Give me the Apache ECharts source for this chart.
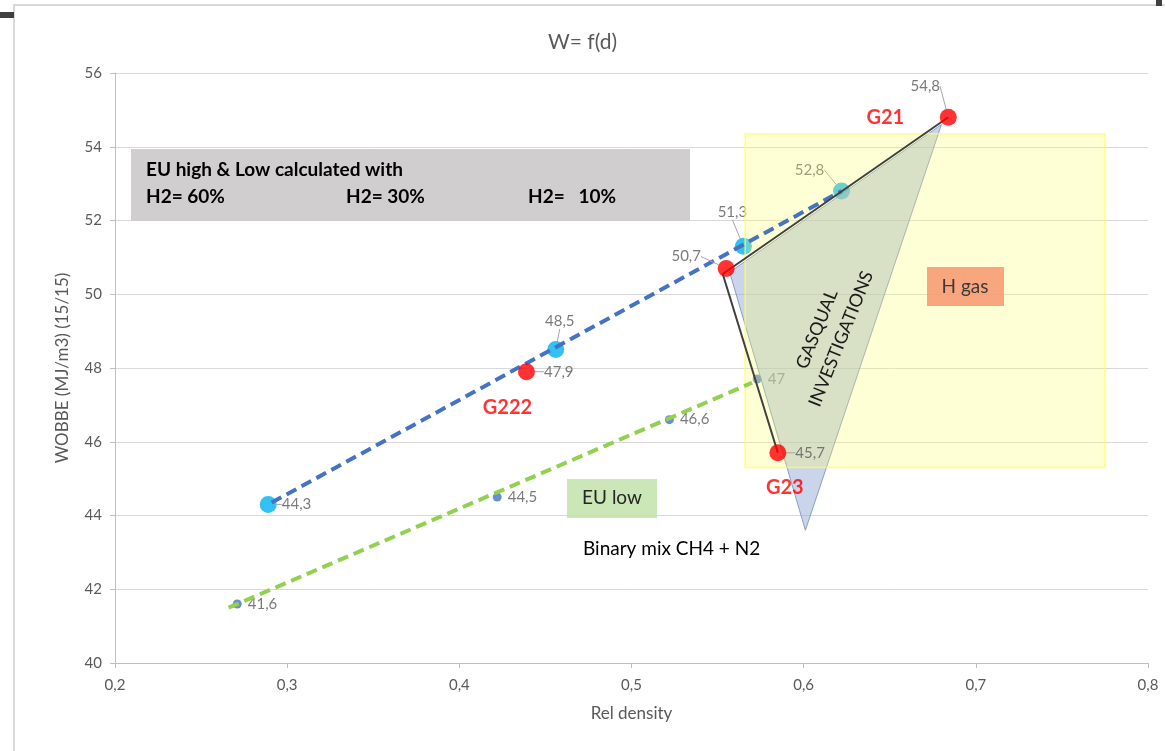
<!DOCTYPE html>
<html><head><meta charset="utf-8">
<script src="https://cdn.jsdelivr.net/npm/echarts@6/dist/echarts.min.js"></script>
<style>html,body{margin:0;padding:0;background:#fff}#c{width:1165px;height:751px}</style>
</head><body><div id="c"></div>
<script>
// ---- data ----
const chartTitle = 'W= f(d)';
const xAxisName = 'Rel density';
const yAxisName = 'WOBBE (MJ/m3) (15/15)';
const euHighX = [0.289, 0.456, 0.565, 0.622];
const euHighY = [44.3, 48.5, 51.3, 52.8];
const gasX = [0.684, 0.439, 0.555, 0.585];
const gasY = [54.8, 47.9, 50.7, 45.7];
const gasNames = ['G21', 'G222', '', 'G23'];
const euLowX = [0.271, 0.422, 0.522, 0.573];
const euLowY = [41.6, 44.5, 46.6, 47.7];
const euLowLabels = ['41,6', '44,5', '46,6', '47'];
const highTrendX = [0.291, 0.622];
const highTrendY = [44.35, 52.8];
const lowTrendX = [0.266, 0.570];
const lowTrendY = [41.5, 47.6];
const gasqualPathX = [0.684, 0.553, 0.585];
const gasqualPathY = [54.8, 50.55, 45.7];
const triangleX = [0.557, 0.680, 0.601];
const triangleY = [50.6, 54.6, 43.6];
const hGasRectX = [0.566, 0.775];
const hGasRectY = [45.3, 54.35];
const boxTitle = 'EU high & Low calculated with';
const boxH2 = ['H2= 60%', 'H2= 30%', 'H2=   10%'];

// ---- helpers ----
const zip = (xs, ys) => xs.map((x, i) => [x, ys[i]]);
const fmt = v => String(v).replace('.', ',');
const FONT = 'Lato, "Open Sans", sans-serif';
const GREY = '#595959';

const chart = echarts.init(document.getElementById('c'), null, {renderer: 'canvas'});

// label moves (pixel) for leader-line labels, relative to symbol centre
const highLabelMove = [null, [4, -28], [-11, -34], [-32, -21]];
const gasLabelMove = [[-23, -31], null, [-40, -12], null];
const nameOffsets = [[-63, 0], [-19, 36], null, [7, 35]];

function moveLabel(moves) {
  return function (p) {
    const m = moves[p.dataIndex];
    if (!m) return {};
    const r = p.rect;
    return {x: r.x + r.width / 2 + m[0] - p.labelRect.width / 2,
            y: r.y + r.height / 2 + m[1] - p.labelRect.height / 2};
  };
}

const option = {
  animation: false,
  backgroundColor: '#fff',
  title: {text: chartTitle, left: 'center', top: 27,
    textStyle: {color: GREY, fontSize: 21, fontWeight: 'normal', fontFamily: FONT}},
  grid: {left: 115, right: 17, top: 73, bottom: 88},
  xAxis: {
    type: 'value', min: 0.2, max: 0.8, interval: 0.1,
    name: xAxisName, nameLocation: 'middle', nameGap: 42,
    nameTextStyle: {color: GREY, fontSize: 17, fontFamily: FONT},
    axisLine: {show: true, lineStyle: {color: '#BFBFBF'}},
    axisTick: {show: true, length: 5, lineStyle: {color: '#BFBFBF'}},
    axisLabel: {color: GREY, fontSize: 15, fontFamily: FONT, margin: 15,
      formatter: v => fmt(Math.round(v * 10) / 10)},
    splitLine: {show: false}
  },
  yAxis: {
    type: 'value', min: 40, max: 56, interval: 2,
    name: yAxisName, nameLocation: 'middle', nameGap: 44,
    nameTextStyle: {color: GREY, fontSize: 17, fontFamily: FONT},
    axisLine: {show: true, lineStyle: {color: '#BFBFBF'}},
    axisTick: {show: true, length: 5, lineStyle: {color: '#BFBFBF'}},
    axisLabel: {color: GREY, fontSize: 15, fontFamily: FONT, margin: 13},
    splitLine: {show: true, lineStyle: {color: '#D9D9D9', width: 1}}
  },
  series: [
    // small blue EU low points
    {
      type: 'scatter', z: 1, symbolSize: 9,
      itemStyle: {color: '#4472C4'},
      data: zip(euLowX, euLowY),
      label: {show: true, position: 'right', distance: 6, color: GREY, fontSize: 15, fontFamily: FONT,
        formatter: p => euLowLabels[p.dataIndex]}
    },
    // cyan EU high points
    {
      type: 'scatter', z: 1, symbolSize: 17,
      itemStyle: {color: '#00B0F0'},
      data: zip(euHighX, euHighY),
      label: {show: true, position: 'right', distance: 5, color: GREY, fontSize: 15, fontFamily: FONT,
        formatter: p => fmt(p.value[1])},
      labelLayout: moveLabel(highLabelMove),
      labelLine: {show: true, lineStyle: {color: '#A6A6A6', width: 1}}
    },
    // triangle
    {
      type: 'custom', z: 2, silent: true, clip: false,
      data: zip(triangleX, triangleY),
      renderItem: function (params, api) {
        if (params.dataIndex !== 0) return null;
        const pts = triangleX.map((x, i) => api.coord([x, triangleY[i]]));
        return {type: 'polygon', shape: {points: pts},
          style: {fill: 'rgba(150,172,216,0.5)', stroke: 'rgba(120,145,190,0.85)', lineWidth: 1}};
      }
    },
    // yellow H gas area
    {
      type: 'custom', z: 3, silent: true, clip: false,
      data: zip(hGasRectX, hGasRectY),
      renderItem: function (params, api) {
        if (params.dataIndex !== 0) return null;
        const p1 = api.coord([hGasRectX[0], hGasRectY[1]]);
        const p2 = api.coord([hGasRectX[1], hGasRectY[0]]);
        return {type: 'rect', shape: {x: p1[0], y: p1[1], width: p2[0] - p1[0], height: p2[1] - p1[1]},
          style: {fill: 'rgba(255,255,100,0.27)', stroke: 'rgba(255,255,90,0.75)', lineWidth: 1.5}};
      }
    },
    // EU high trend (blue dashed)
    {
      type: 'line', z: 4, symbol: 'none', silent: true,
      data: zip(highTrendX, highTrendY),
      lineStyle: {color: '#4472C4', width: 4, type: [11, 6]}
    },
    // EU low trend (green dashed)
    {
      type: 'line', z: 4, symbol: 'none', silent: true,
      data: zip(lowTrendX, lowTrendY),
      lineStyle: {color: '#92D050', width: 4, type: [11, 6]}
    },
    // gasqual path
    {
      type: 'line', z: 5, symbol: 'none', silent: true,
      data: zip(gasqualPathX, gasqualPathY),
      lineStyle: {color: '#404040', width: 2}
    },
    // red gas points
    {
      type: 'scatter', z: 6, symbolSize: 17,
      itemStyle: {color: '#FF0000'},
      data: zip(gasX, gasY),
      label: {show: true, position: 'right', distance: 9, color: GREY, fontSize: 15, fontFamily: FONT,
        formatter: p => fmt(p.value[1])},
      labelLayout: moveLabel(gasLabelMove),
      labelLine: {show: true, lineStyle: {color: '#A6A6A6', width: 1}}
    },
    // gas names (red bold)
    {
      type: 'scatter', z: 7, symbolSize: 1, itemStyle: {color: 'rgba(0,0,0,0)'}, silent: true,
      data: zip(gasX, gasY),
      label: {show: true, position: 'inside', color: '#FF0000', fontSize: 20, fontWeight: 'bold', fontFamily: FONT,
        formatter: p => gasNames[p.dataIndex]},
      labelLayout: function (p) {
        const m = nameOffsets[p.dataIndex] || [0, 0];
        return {dx: m[0], dy: m[1]};
      }
    }
  ],
  graphic: [
    {type: 'rect', z: -10, shape: {x: 14, y: 5, width: 1200, height: 800}, style: {fill: 'none', stroke: '#D9D9D9', lineWidth: 2}},
    {type: 'rect', z: 10, shape: {x: 0, y: 12, width: 14, height: 6}, style: {fill: '#404040'}},
    {type: 'rect', z: 10, shape: {x: 1156, y: 0, width: 6, height: 6}, style: {fill: '#404040'}},
    // grey note box
    {type: 'rect', z: 10, shape: {x: 131, y: 149, width: 559, height: 72}, style: {fill: '#D0CECE'}},
    {type: 'text', z: 11, x: 146, y: 170, style: {text: boxTitle, fill: '#000', font: 'bold 19px ' + FONT, verticalAlign: 'middle'}},
    {type: 'text', z: 11, x: 146, y: 197, style: {text: boxH2[0], fill: '#000', font: 'bold 19px ' + FONT, verticalAlign: 'middle'}},
    {type: 'text', z: 11, x: 346, y: 197, style: {text: boxH2[1], fill: '#000', font: 'bold 19px ' + FONT, verticalAlign: 'middle'}},
    {type: 'text', z: 11, x: 528, y: 197, style: {text: boxH2[2], fill: '#000', font: 'bold 19px ' + FONT, verticalAlign: 'middle'}},
    // H gas box
    {type: 'rect', z: 10, shape: {x: 927, y: 267, width: 77, height: 39}, style: {fill: 'rgba(248,150,110,0.85)'}},
    {type: 'text', z: 11, x: 965, y: 287, style: {text: 'H gas', fill: '#3a3a3a', font: '19px ' + FONT, align: 'center', verticalAlign: 'middle'}},
    // EU low box
    {type: 'rect', z: 10, shape: {x: 567, y: 479, width: 90, height: 39}, style: {fill: 'rgba(190,225,165,0.8)'}},
    {type: 'text', z: 11, x: 612, y: 498, style: {text: 'EU low', fill: '#262626', font: '19px ' + FONT, align: 'center', verticalAlign: 'middle'}},
    // Binary mix
    {type: 'text', z: 11, x: 583, y: 549, style: {text: 'Binary mix CH4 + N2', fill: '#000', font: '19px ' + FONT, verticalAlign: 'middle'}},
    // GASQUAL text
    {type: 'text', z: 11, x: 829, y: 334, rotation: 68 * Math.PI / 180,
      style: {text: 'GASQUAL\nINVESTIGATIONS', fill: '#1a1a1a', font: '18px ' + FONT, align: 'center', verticalAlign: 'middle', lineHeight: 26}}
  ]
};
chart.setOption(option);
</script>
</body></html>
